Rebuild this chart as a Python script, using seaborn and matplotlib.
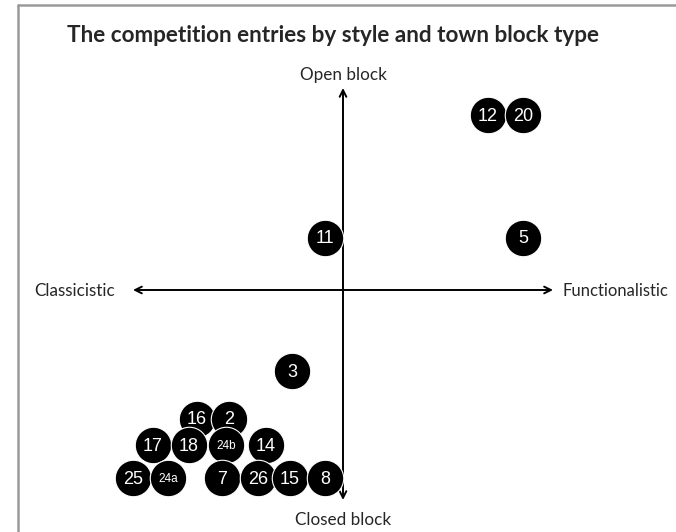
import matplotlib.pyplot as plt
import matplotlib.lines as mlines
import pandas as pd
import seaborn as sns

# competition entries: position on style (x) / block type (y) diagram
entry_labels = ['12', '20', '11', '5', '3', '16', '2', '17', '18', '24b', '14',
                '25', '24a', '7', '26', '15', '8']
style_pos = [6.90, 8.57, -0.86, 8.57, -2.43, -6.95, -5.43, -9.05, -7.33, -5.57, -3.67,
             -10.0, -8.33, -5.76, -4.05, -2.52, -0.86]
block_pos = [8.33, 8.33, 2.48, 2.48, -3.86, -6.14, -6.14, -7.38, -7.38, -7.38, -7.38,
             -8.95, -8.95, -8.95, -8.95, -8.95, -8.95]

axis_left = 'Classicistic'
axis_right = 'Functionalistic'
axis_top = 'Open block'
axis_bottom = 'Closed block'
title = 'The competition entries by style and town block type'

df = pd.DataFrame({'entry': entry_labels, 'style': style_pos, 'block': block_pos})

sns.set_style('white')
plt.rcParams['font.family'] = ['Lato', 'DejaVu Sans']

fig = plt.figure(figsize=(6.76, 5.32), dpi=100)
ax = fig.add_axes([0, 0, 1, 1])
ax.set_xlim(-343 / 21, 333 / 21)
ax.set_ylim(-242 / 21, 290 / 21)
ax.axis('off')

# axes arrows
ax.annotate('', xy=(10, 0), xytext=(-10, 0),
            arrowprops=dict(arrowstyle='<->', color='black', lw=1.4, mutation_scale=12,
                            shrinkA=0, shrinkB=0))
ax.annotate('', xy=(0, 9.62), xytext=(0, -10),
            arrowprops=dict(arrowstyle='<->', color='black', lw=1.4, mutation_scale=12,
                            shrinkA=0, shrinkB=0))

sns.scatterplot(data=df, x='style', y='block', s=690, color='black',
                edgecolor='white', linewidth=0.8, ax=ax, zorder=3, legend=False)

for lab, x, y in zip(df['entry'], df['style'], df['block']):
    size = 8.5 if len(lab) > 2 else 13
    ax.text(x, y - 0.05, lab, color='white', fontsize=size, ha='center', va='center',
            family=['Liberation Sans', 'DejaVu Sans'], zorder=4)

ax.text(-10.85, -0.05, axis_left, ha='right', va='center', fontsize=12.3)
ax.text(10.45, -0.05, axis_right, ha='left', va='center', fontsize=12)
ax.text(0, 9.85, axis_top, ha='center', va='bottom', fontsize=12.3)
ax.text(0, -10.55, axis_bottom, ha='center', va='top', fontsize=12.3)

fig.text(67 / 676, 1 - 35 / 532, title, ha='left', va='center', fontsize=16.2,
         fontweight='bold')

# grey frame (top and left edges)
fig.add_artist(mlines.Line2D([17.5 / 676, 17.5 / 676], [0, 1 - 5 / 532],
                             color='#9a9a9a', lw=1.8))
fig.add_artist(mlines.Line2D([17.5 / 676, 1], [1 - 5 / 532, 1 - 5 / 532],
                             color='#9a9a9a', lw=1.8))

fig.savefig('out.png', dpi=100)
